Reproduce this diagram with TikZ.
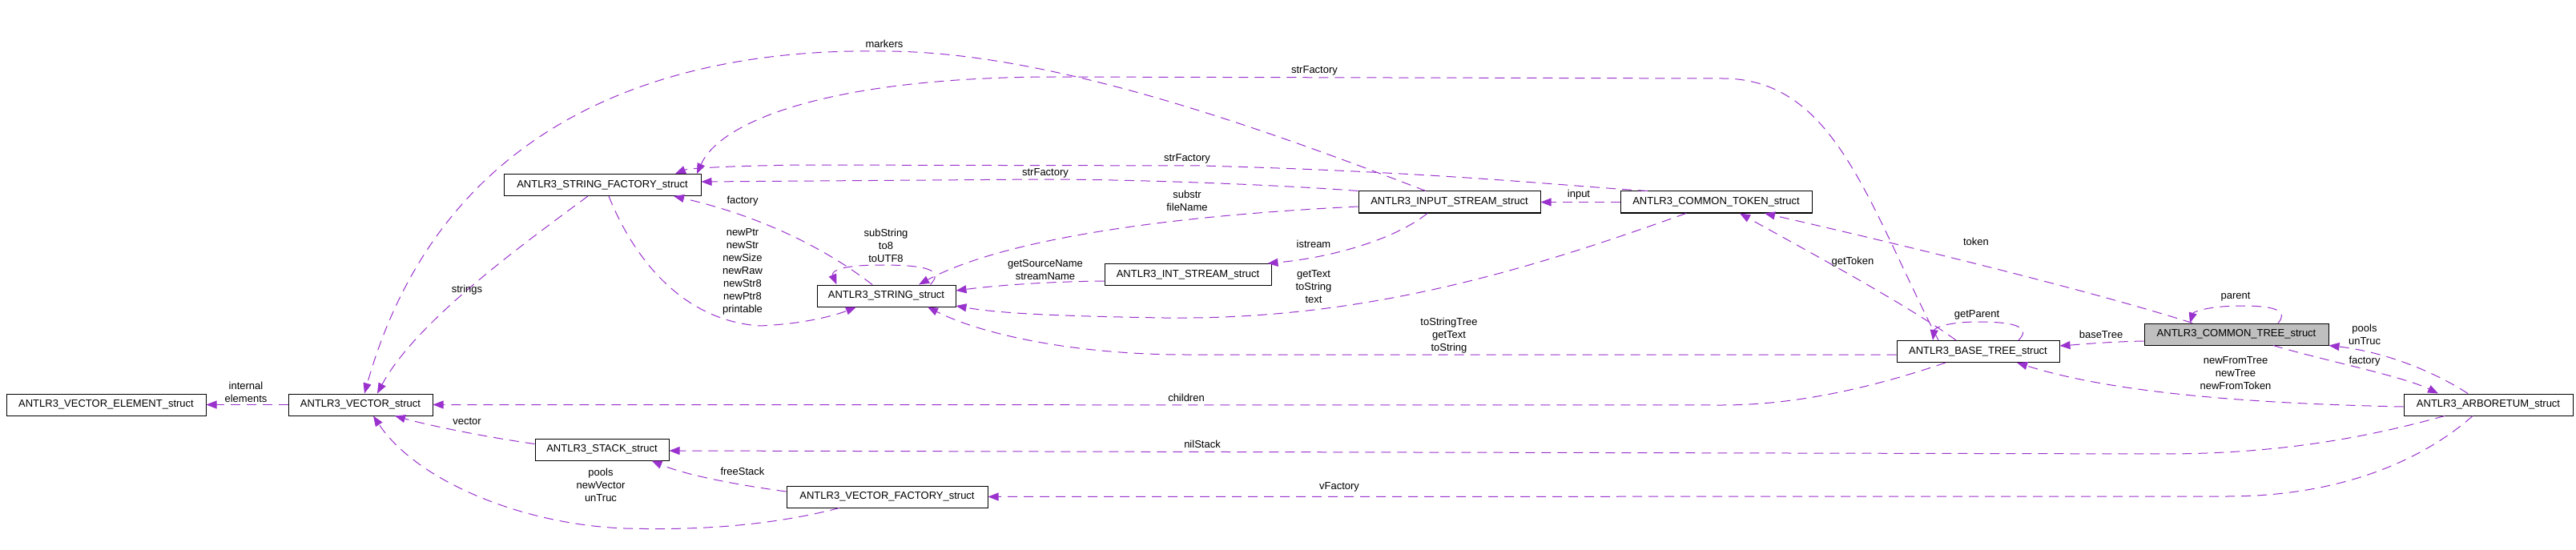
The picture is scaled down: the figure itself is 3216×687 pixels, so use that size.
\documentclass[tikz,border=0pt]{standalone}
\usepackage{fontspec}
\setmainfont{Liberation Sans}
\usetikzlibrary{arrows.meta}
\definecolor{edgecol}{HTML}{9A32CD}
\definecolor{focusfill}{HTML}{BFBFBF}
\begin{document}
\begin{tikzpicture}[x=1pt,y=-1pt,
  box/.style={draw=black,line width=1pt,fill=white,inner sep=0pt,minimum height=27pt,font=\fontsize{13}{16}\selectfont},
  edge/.style={draw=edgecol,line width=1pt,dash pattern=on 12pt off 8pt,-{Triangle[length=13pt,width=10pt,fill=edgecol]}},
  lbl/.style={font=\fontsize{13}{16}\selectfont,align=center,inner sep=0pt}]
\fill[white] (0,0) rectangle (3216,687);
\useasboundingbox (0,0) rectangle (3216,687);
% nodes
\node[box,minimum width=249pt] (VE) at (132.5,505.5) {ANTLR3\_VECTOR\_ELEMENT\_struct};
\node[box,minimum width=180pt] (V) at (450,505.5) {ANTLR3\_VECTOR\_struct};
\node[box,minimum width=246pt] (SF) at (752,231) {ANTLR3\_STRING\_FACTORY\_struct};
\node[box,minimum width=173pt] (S) at (1106.5,369.5) {ANTLR3\_STRING\_struct};
\node[box,minimum width=227pt] (IS) at (1809.5,252.5) {ANTLR3\_INPUT\_STREAM\_struct};
\node[box,minimum width=239pt] (CT) at (2142.5,252.5) {ANTLR3\_COMMON\_TOKEN\_struct};
\node[box,minimum width=208pt] (INT) at (1483,343) {ANTLR3\_INT\_STREAM\_struct};
\node[box,minimum width=203pt] (BT) at (2469.5,439) {ANTLR3\_BASE\_TREE\_struct};
\node[box,minimum width=230pt,fill=focusfill] (CTR) at (2792,417.5) {ANTLR3\_COMMON\_TREE\_struct};
\node[box,minimum width=211pt] (AR) at (3106.5,505.5) {ANTLR3\_ARBORETUM\_struct};
\node[box,minimum width=167pt] (ST) at (751.5,561.5) {ANTLR3\_STACK\_struct};
\node[box,minimum width=251pt] (VF) at (1107.5,620.5) {ANTLR3\_VECTOR\_FACTORY\_struct};
% edges
\draw[edge] (V.west) -- (VE.east);
\node[lbl] (l1) at (307,489.5) {internal\\elements};
\draw[edge] ([xshift=-18pt]SF.south) .. controls (660,300) and (520,400) .. ([xshift=21pt]V.north);
\node[lbl] (l2) at (583,362) {strings};
\draw[edge] ([xshift=-29.5pt]IS.north) .. controls (1550,150) and (1300,64) .. (1104,64) .. controls (880,60) and (560,120) .. ([xshift=5pt]V.north);
\node[lbl] (l3) at (1104,55) {markers};
\draw[edge] ([xshift=-49.5pt]BT.north) .. controls (2330,250) and (2290,98) .. (2150,98) -- (1320,96) .. controls (1040,96) and (900,150) .. ([xshift=118pt]SF.north);
\node[lbl] (l4) at (1641,88) {strFactory};
\draw[edge] ([xshift=-85.5pt]CT.north) .. controls (1950,232) and (1800,215) .. (1500,207) -- (1000,206) .. controls (920,207) and (860,210) .. ([xshift=91pt]SF.north);
\node[lbl] (l5) at (1482,198) {strFactory};
\draw[edge] (IS.north west) .. controls (1600,231) and (1420,224) .. (1300,224) -- ([yshift=4pt]SF.east);
\node[lbl] (l6) at (1305,216) {strFactory};
\draw[edge] ([xshift=-17.5pt]S.north) .. controls (1030,310) and (950,270) .. ([xshift=89pt]SF.south);
\node[lbl] (l7) at (927,251) {factory};
\draw[edge] ([xshift=8pt]SF.south) .. controls (790,320) and (850,400) .. (948,407) .. controls (1000,405) and (1040,395) .. ([xshift=-37.5pt]S.south);
\node[lbl] (l8) at (927,339) {newPtr\\newStr\\newSize\\newRaw\\newStr8\\newPtr8\\printable};
\draw[edge] ([xshift=55pt]S.north) .. controls (1178,338) and (1160,331) .. (1100,331) .. controls (1045,331) and (1038,340) .. ([xshift=-62pt]S.north);
\node[lbl] (l9) at (1106,307) {subString\\to8\\toUTF8};
\draw[edge] ([yshift=-5.5pt]IS.west) .. controls (1450,270) and (1250,300) .. ([xshift=40.5pt]S.north);
\node[lbl] (l10) at (1482,251) {substr\\fileName};
\draw[edge] ([yshift=-8pt]INT.west) .. controls (1300,352) and (1240,357) .. ([yshift=6.5pt]S.east);
\node[lbl] (l11) at (1305,337) {getSourceName\\streamName};
\draw[edge] ([xshift=-37.5pt]CT.south) .. controls (1900,340) and (1700,400) .. (1453,397) .. controls (1330,395) and (1250,392) .. ([yshift=-12.5pt]S.east);
\node[lbl] (l12) at (1640,358) {getText\\toString\\text};
\draw[edge] ([yshift=-4pt]BT.west) -- (1480,443) .. controls (1350,443) and (1230,420) .. ([xshift=51.5pt]S.south);
\node[lbl] (l13) at (1809,419) {toStringTree\\getText\\toString};
\draw[edge] ([xshift=-27.5pt]IS.south) .. controls (1740,300) and (1660,322) .. ([xshift=-5pt]INT.north east);
\node[lbl] (l14) at (1640,305) {istream};
\draw[edge] (CT.west) -- (IS.east);
\node[lbl] (l15) at (1971,243) {input};
\draw[edge] ([xshift=-55pt]CTR.north) .. controls (2600,360) and (2350,300) .. ([xshift=60.5pt]CT.south);
\node[lbl] (l16) at (2467,302) {token};
\draw[edge] ([xshift=-27.5pt]BT.north) .. controls (2380,380) and (2250,310) .. ([xshift=29.5pt]CT.south);
\node[lbl] (l17) at (2313,327) {getToken};
\draw[edge] ([xshift=50.5pt]BT.north) .. controls (2535,410) and (2520,402) .. (2470,402) .. controls (2430,402) and (2415,410) .. ([xshift=-56.5pt]BT.north);
\node[lbl] (l18) at (2468,393) {getParent};
\draw[edge] ([yshift=-8.5pt]CTR.west) .. controls (2630,427) and (2600,430) .. ([yshift=7pt]BT.east);
\node[lbl] (l19) at (2623,418) {baseTree};
\draw[edge] ([xshift=52pt]CTR.north) .. controls (2856,390) and (2845,382) .. (2800,382) .. controls (2755,382) and (2738,390) .. ([xshift=-58pt]CTR.north);
\node[lbl] (l20) at (2791,371) {parent};
\draw[edge] ([xshift=-25.5pt]AR.north) .. controls (3040,465) and (2980,440) .. (CTR.south east);
\node[lbl] (l21) at (2952,418) {pools\\unTruc};
\draw[edge] ([xshift=46pt]CTR.south) .. controls (2900,450) and (3000,470) .. ([xshift=-62.5pt]AR.north);
\node[lbl] (l22) at (2952,451) {factory};
\draw[edge] ([yshift=-2.5pt]AR.west) .. controls (2850,505) and (2650,495) .. ([xshift=48.5pt]BT.south);
\node[lbl] (l23) at (2791,466) {newFromTree\\newTree\\newFromToken};
\draw[edge] ([xshift=-54.5pt]AR.south) .. controls (2960,545) and (2850,567) .. (2700,567) -- ([yshift=-1.5pt]ST.east);
\node[lbl] (l24) at (1501,555) {nilStack};
\draw[edge] ([xshift=-19.5pt]AR.south) .. controls (3030,570) and (2930,620) .. (2780,620) -- (VF.east);
\node[lbl] (l25) at (1672,608) {vFactory};
\draw[edge] ([yshift=7pt]ST.west) .. controls (600,545) and (530,530) .. ([xshift=43pt]V.south);
\node[lbl] (l26) at (583,526) {vector};
\draw[edge] ([xshift=-59.5pt]VF.south) .. controls (950,660) and (850,662) .. (780,660) .. controls (650,655) and (520,600) .. ([xshift=16pt]V.south);
\node[lbl] (l27) at (750,606) {pools\\newVector\\unTruc};
\draw[edge] ([yshift=6.5pt]VF.west) .. controls (930,607) and (860,595) .. ([xshift=62pt]ST.south);
\node[lbl] (l28) at (927,589) {freeStack};
\draw[edge] ([xshift=-40.5pt]BT.south) .. controls (2350,480) and (2250,506) .. (2150,506) -- (V.east);
\node[lbl] (l29) at (1481,497) {children};
\end{tikzpicture}
\end{document}
